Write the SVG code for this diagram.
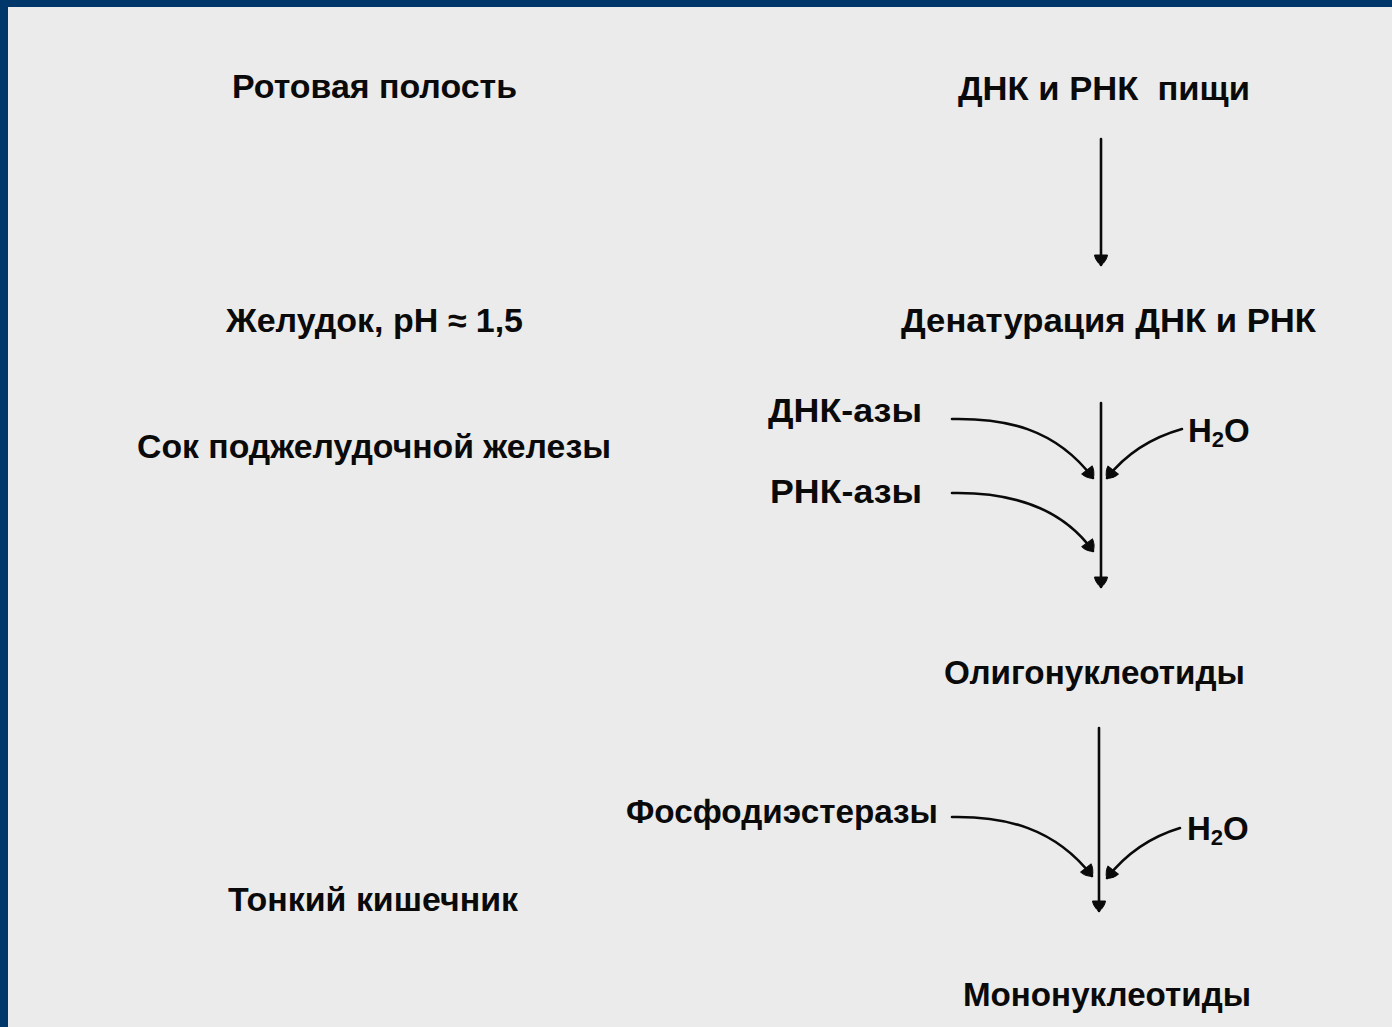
<svg xmlns="http://www.w3.org/2000/svg" width="1392" height="1027" viewBox="0 0 1392 1027">
<style>
  .t { font-family: "Liberation Sans", Arial, sans-serif; font-weight: bold; font-size: 33px; fill: #0a0a0a; white-space: pre; }
  .sub { font-size: 22px; }
  .ln { fill: none; stroke: #0a0a0a; stroke-width: 2.6; stroke-linecap: round; }
</style>
<defs>
  <marker id="ah" markerUnits="userSpaceOnUse" viewBox="0 -8 12 16" markerWidth="12" markerHeight="16" refX="10" refY="0" orient="auto" overflow="visible">
    <path d="M0,-6.5 C4,-6 8,-3 10.5,0 C8,3 4,6 0,6.5 Z" fill="#0a0a0a" stroke="#0a0a0a" stroke-width="1"/>
  </marker>
</defs>
<rect x="0" y="0" width="1392" height="1027" fill="#ebebeb"/>
<rect x="0" y="0" width="1392" height="7" fill="#00376b"/>
<rect x="0" y="0" width="8" height="1027" fill="#00376b"/>

<g id="node-oral"><text class="t" x="232" y="98" textLength="285" lengthAdjust="spacingAndGlyphs">Ротовая полость</text></g>
<g id="node-food"><text class="t" x="958" y="100" textLength="292" lengthAdjust="spacingAndGlyphs" xml:space="preserve">ДНК и РНК  пищи</text></g>
<g id="node-stomach"><text class="t" x="226" y="332" textLength="297" lengthAdjust="spacingAndGlyphs">Желудок, pH ≈ 1,5</text></g>
<g id="node-denat"><text class="t" x="901" y="332" textLength="415" lengthAdjust="spacingAndGlyphs">Денатурация ДНК и РНК</text></g>
<g id="node-dnase"><text class="t" x="768" y="422" textLength="154" lengthAdjust="spacingAndGlyphs">ДНК-азы</text></g>
<g id="node-h2o-1"><text class="t" x="1188" y="442">H<tspan class="sub" dy="5">2</tspan><tspan dy="-5">O</tspan></text></g>
<g id="node-pancreas"><text class="t" x="137" y="458" textLength="474" lengthAdjust="spacingAndGlyphs">Сок поджелудочной железы</text></g>
<g id="node-rnase"><text class="t" x="770" y="503" textLength="152" lengthAdjust="spacingAndGlyphs">РНК-азы</text></g>
<g id="node-oligo"><text class="t" x="944" y="684" textLength="301" lengthAdjust="spacingAndGlyphs">Олигонуклеотиды</text></g>
<g id="node-pde"><text class="t" x="626" y="823" textLength="312" lengthAdjust="spacingAndGlyphs">Фосфодиэстеразы</text></g>
<g id="node-h2o-2"><text class="t" x="1187" y="840">H<tspan class="sub" dy="5">2</tspan><tspan dy="-5">O</tspan></text></g>
<g id="node-intestine"><text class="t" x="228" y="911" textLength="290" lengthAdjust="spacingAndGlyphs">Тонкий кишечник</text></g>
<g id="node-mono"><text class="t" x="963" y="1006" textLength="288" lengthAdjust="spacingAndGlyphs">Мононуклеотиды</text></g>

<g id="connectors">
  <path class="ln" d="M1101,139 L1101,265" marker-end="url(#ah)"/>
  <path class="ln" d="M1101,403 L1101,587" marker-end="url(#ah)"/>
  <path class="ln" d="M952,419 C1005,418 1055,428 1093,478" marker-end="url(#ah)"/>
  <path class="ln" d="M1182,429 C1150,438 1125,455 1107,478" marker-end="url(#ah)"/>
  <path class="ln" d="M952,493 C1005,492 1060,505 1093,551" marker-end="url(#ah)"/>
  <path class="ln" d="M1099,728 L1099,911" marker-end="url(#ah)"/>
  <path class="ln" d="M952,817 C1005,816 1055,828 1092,876" marker-end="url(#ah)"/>
  <path class="ln" d="M1180,828 C1150,837 1125,855 1107,878" marker-end="url(#ah)"/>
</g>
</svg>
